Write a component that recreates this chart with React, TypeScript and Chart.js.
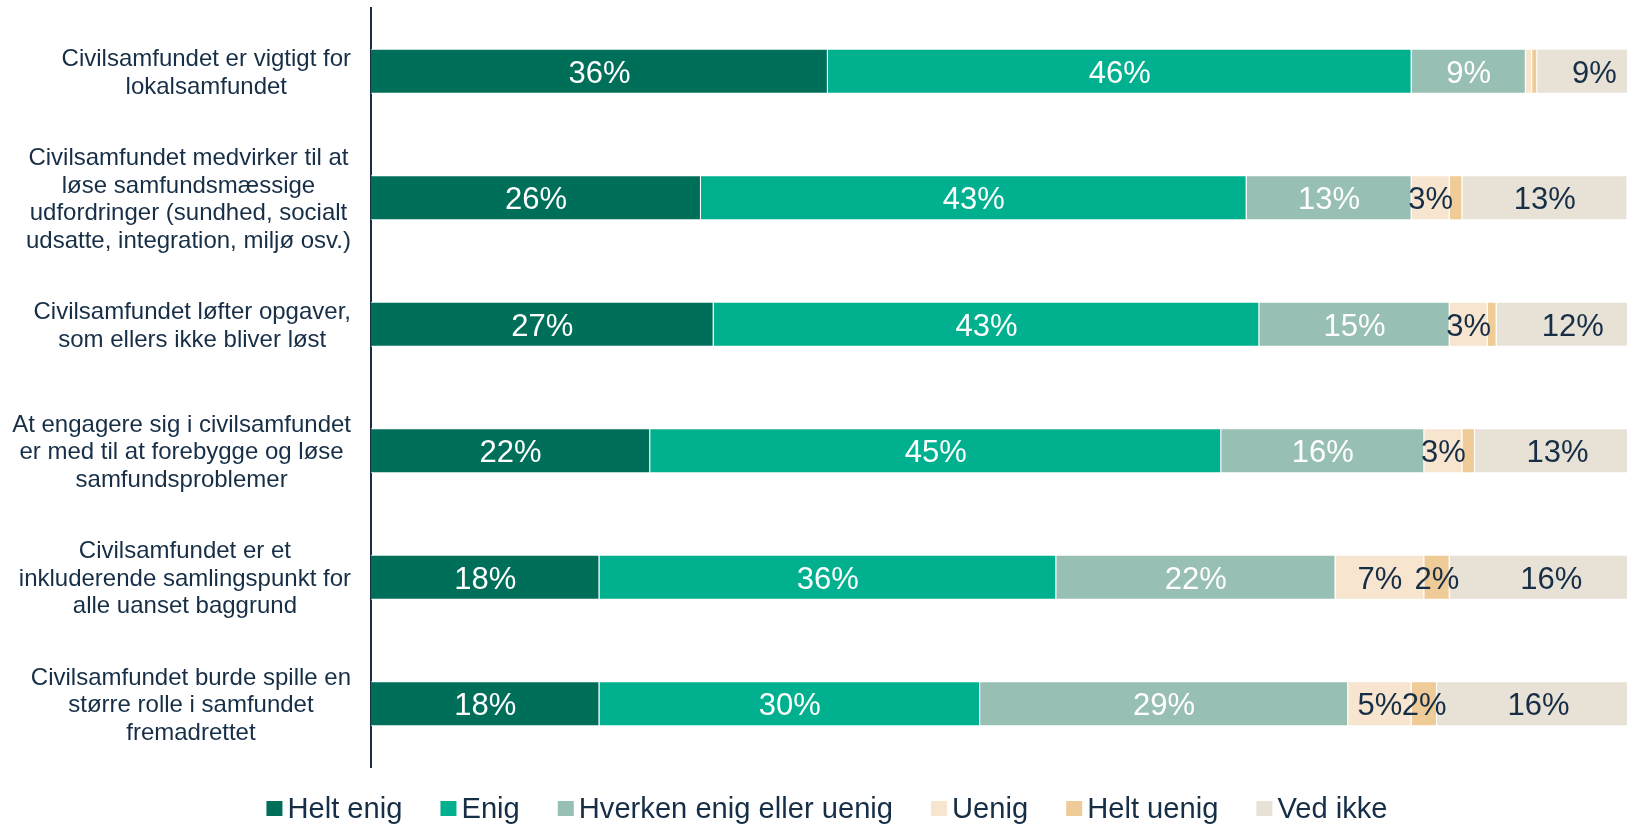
import React, { useEffect, useRef } from "react";
import { Chart, registerables } from "chart.js";

Chart.register(...registerables);

// Survey statements (one multi-line label per bar)
const categories: string[][] = [
  ["Civilsamfundet er vigtigt for", "lokalsamfundet"],
  [
    "Civilsamfundet medvirker til at",
    "løse samfundsmæssige",
    "udfordringer (sundhed, socialt",
    "udsatte, integration, miljø osv.)",
  ],
  ["Civilsamfundet løfter opgaver,", "som ellers ikke bliver løst"],
  ["At engagere sig i civilsamfundet", "er med til at forebygge og løse", "samfundsproblemer"],
  ["Civilsamfundet er et", "inkluderende samlingspunkt for", "alle uanset baggrund"],
  ["Civilsamfundet burde spille en", "større rolle i samfundet", "fremadrettet"],
];

const seriesNames = ["Helt enig", "Enig", "Hverken enig eller uenig", "Uenig", "Helt uenig", "Ved ikke"];

// Share of answers in percent
const heltEnig = [36, 26, 27, 22, 18, 18];
const enig = [46, 43, 43, 45, 36, 30];
const hverken = [9, 13, 15, 16, 22, 29];
const uenig = [0.5, 3, 3, 3, 7, 5];
const heltUenig = [0.4, 1, 0.7, 1, 2, 2];
const vedIkke = [9, 13, 12, 13, 16, 16];

const seriesColors = ["#006f59", "#00b08f", "#98bfb4", "#f7e5cf", "#eecb97", "#e8e1d6"];
const NAVY = "#162e46";
const labelColors = ["#ffffff", "#ffffff", "#ffffff", NAVY, NAVY, NAVY];
const FONT = "'Liberation Sans', Arial, sans-serif";

// Percent labels centred inside each segment (small slivers are left blank)
const valueLabels = {
  id: "valueLabels",
  afterDatasetsDraw(chart: any) {
    const ctx = chart.ctx;
    ctx.save();
    ctx.font = `31px ${FONT}`;
    ctx.textAlign = "center";
    ctx.textBaseline = "middle";
    chart.data.datasets.forEach((ds: any, di: number) => {
      const meta = chart.getDatasetMeta(di);
      meta.data.forEach((el: any, i: number) => {
        const v = ds.data[i] as number;
        if (v < 1.5) return;
        const { x, base, y } = el.getProps(["x", "base", "y"], true);
        ctx.fillStyle = labelColors[di];
        ctx.fillText(`${Math.round(v)}%`, (x + base) / 2, y + 3);
      });
    });
    ctx.restore();
  },
};

// Category labels: block right-aligned to the axis, lines centred within the block
const categoryLabels = {
  id: "categoryLabels",
  afterDraw(chart: any) {
    const ctx = chart.ctx;
    const yScale = chart.scales.y;
    const right = chart.chartArea.left - 20;
    const lineH = 27.5;
    ctx.save();
    ctx.font = `24px ${FONT}`;
    ctx.fillStyle = NAVY;
    ctx.textAlign = "center";
    ctx.textBaseline = "middle";
    (chart.data.labels as string[][]).forEach((lines, i) => {
      const cy = yScale.getPixelForTick(i) + 2;
      const widest = Math.max(...lines.map((l) => ctx.measureText(l).width));
      const cx = right - widest / 2;
      lines.forEach((line, j) => {
        ctx.fillText(line, cx, cy + (j - (lines.length - 1) / 2) * lineH);
      });
    });
    ctx.restore();
  },
};

// Legend row under the plot
const bottomLegend = {
  id: "bottomLegend",
  afterDraw(chart: any) {
    const ctx = chart.ctx;
    const box = 15;
    const textGap = 6;
    const itemGap = 38;
    const centerX = 827;
    const cy = 808.5;
    ctx.save();
    ctx.font = `29.15px ${FONT}`;
    ctx.textBaseline = "middle";
    ctx.textAlign = "left";
    const items = chart.data.datasets.map((ds: any) => ({
      text: ds.label as string,
      color: ds.backgroundColor as string,
      w: ctx.measureText(ds.label).width,
    }));
    const total =
      items.reduce((s: number, it: any) => s + box + textGap + it.w, 0) + itemGap * (items.length - 1);
    let x = centerX - total / 2;
    items.forEach((it: any) => {
      ctx.fillStyle = it.color;
      ctx.fillRect(x, cy - box / 2, box + 1, box);
      ctx.fillStyle = NAVY;
      ctx.fillText(it.text, x + box + textGap, cy + 1);
      x += box + textGap + it.w + itemGap;
    });
    ctx.restore();
  },
};

export default function App() {
  const canvasRef = useRef<HTMLCanvasElement | null>(null);

  useEffect(() => {
    if (!canvasRef.current) return;
    const series = [heltEnig, enig, hverken, uenig, heltUenig, vedIkke];
    const chart = new Chart(canvasRef.current, {
      type: "bar",
      data: {
        labels: categories as any,
        datasets: series.map((data, i) => ({
          label: seriesNames[i],
          data,
          backgroundColor: seriesColors[i],
          borderColor: "#ffffff",
          borderWidth: 1,
          categoryPercentage: 1,
          barPercentage: 0.355,
        })),
      },
      options: {
        indexAxis: "y",
        animation: false,
        responsive: false,
        devicePixelRatio: 1,
        layout: { padding: { top: 8, bottom: 57, left: 0, right: 0 } },
        plugins: {
          legend: { display: false },
          tooltip: { enabled: false },
        },
        scales: {
          x: {
            stacked: true,
            min: 0,
            max: 100,
            display: false,
          },
          y: {
            stacked: true,
            z: 1,
            grid: { display: false },
            ticks: { display: false },
            border: { display: true, color: NAVY, width: 2 },
            afterFit: (scale: any) => {
              scale.width = 371;
            },
          },
        },
      },
      plugins: [valueLabels, categoryLabels, bottomLegend],
    });
    return () => chart.destroy();
  }, []);

  return (
    <div
      style={{
        position: "fixed",
        left: 0,
        top: 0,
        width: 1627,
        height: 824,
        overflow: "hidden",
        background: "#ffffff",
      }}
    >
      <canvas ref={canvasRef} width={1640} height={824} style={{ display: "block" }} />
    </div>
  );
}
